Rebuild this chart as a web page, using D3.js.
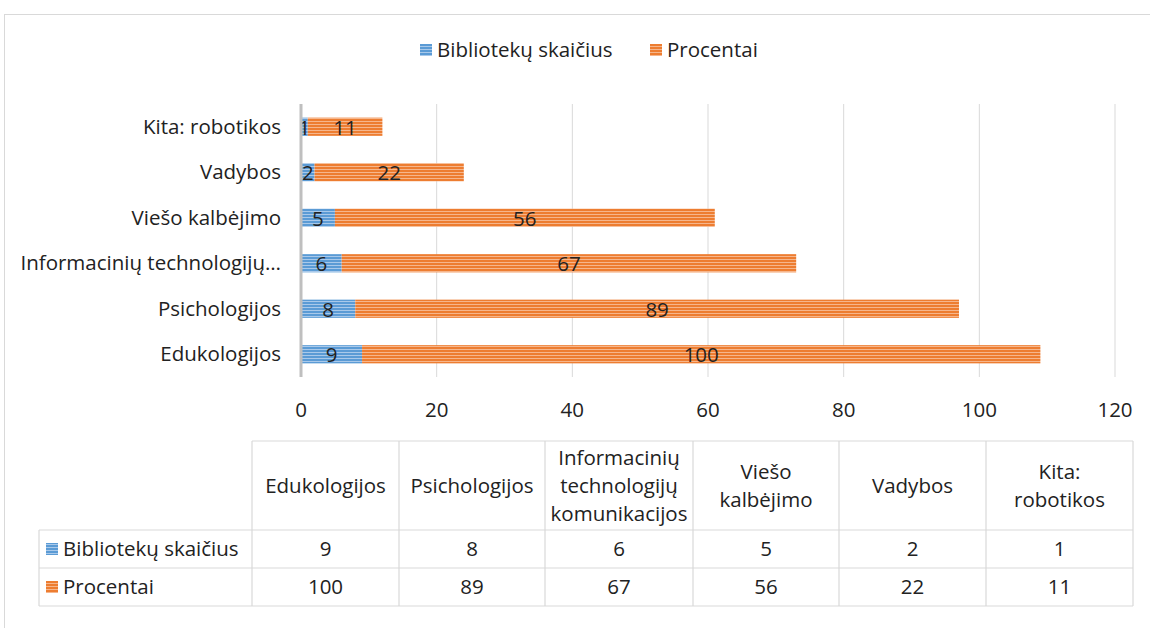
<!DOCTYPE html>
<meta charset="utf-8">
<style>
body { margin: 0; background: #fff; }
text { font-family: "Open Sans", sans-serif; fill: #222; }
</style>
<svg width="1150" height="628"></svg>
<script src="https://d3js.org/d3.v7.min.js"></script>
<script>

// data
var categories = ["Edukologijos", "Psichologijos", "Informacinių technologijų komunikacijos", "Viešo kalbėjimo", "Vadybos", "Kita: robotikos"];
var headerLines = [["Edukologijos"], ["Psichologijos"], ["Informacinių", "technologijų", "komunikacijos"], ["Viešo", "kalbėjimo"], ["Vadybos"], ["Kita:", "robotikos"]];
var bibliotekos = [9, 8, 6, 5, 2, 1];
var procentai = [100, 89, 67, 56, 22, 11];
var seriesNames = ["Bibliotekų skaičius", "Procentai"];
var xTicks = [0, 20, 40, 60, 80, 100, 120];

var svg = d3.select("svg");
var fs = 20.5;

var colors = [{base: "#5b9bd5", light: "#a9c9ea"}, {base: "#ed7d31", light: "#f6b68c"}];

// striped fills
var defs = svg.append("defs");
colors.forEach(function(c, i) {
  var p = defs.append("pattern")
      .attr("id", "stripe" + i)
      .attr("patternUnits", "userSpaceOnUse")
      .attr("width", 6).attr("height", 3);
  p.append("rect").attr("width", 6).attr("height", 3).attr("fill", c.base);
  p.append("rect").attr("y", 1).attr("width", 6).attr("height", 1).attr("fill", c.light);
});

// outer border
svg.append("rect")
    .attr("x", 4.5).attr("y", 14.5)
    .attr("width", 1200).attr("height", 700)
    .attr("fill", "none").attr("stroke", "#d9d9d9");

var x = d3.scaleLinear().domain([0, 120]).range([301, 1115]);
var y = d3.scaleBand().domain(categories.slice().reverse()).range([104, 377]).paddingInner(0.6).paddingOuter(0.3);

// gridlines
svg.append("g").selectAll("line")
  .data(xTicks.slice(1))
  .enter().append("line")
    .attr("x1", function(d) { return x(d); })
    .attr("x2", function(d) { return x(d); })
    .attr("y1", 104).attr("y2", 377)
    .attr("stroke", "#d9d9d9").attr("stroke-width", 1);

// x tick labels
svg.append("g").selectAll("text")
  .data(xTicks)
  .enter().append("text")
    .attr("x", function(d) { return x(d); })
    .attr("y", 417)
    .attr("text-anchor", "middle")
    .attr("font-size", fs)
    .text(function(d) { return d; });

// stacked bars
var rows = categories.map(function(c, i) { return {cat: c, vals: [bibliotekos[i], procentai[i]]}; });
var stackG = svg.append("g");
rows.forEach(function(r) {
  var start = 0;
  r.vals.forEach(function(v, si) {
    stackG.append("rect")
        .attr("x", x(start))
        .attr("y", y(r.cat))
        .attr("width", x(start + v) - x(start))
        .attr("height", y.bandwidth())
        .attr("fill", "url(#stripe" + si + ")");
    stackG.append("text")
        .attr("x", (x(start) + x(start + v)) / 2)
        .attr("y", y(r.cat) + y.bandwidth() / 2 + 8)
        .attr("text-anchor", "middle")
        .attr("font-size", fs)
        .text(v);
    start += v;
  });
});

// y axis line
svg.append("line")
    .attr("x1", 301).attr("x2", 301)
    .attr("y1", 104).attr("y2", 377)
    .attr("stroke", "#bfbfbf").attr("stroke-width", 3);

// category labels (truncated like the original)
svg.append("g").selectAll("text")
  .data(categories)
  .enter().append("text")
    .attr("x", 281)
    .attr("y", function(d) { return y(d) + y.bandwidth() / 2 + 7; })
    .attr("text-anchor", "end")
    .attr("font-size", fs)
    .text(function(d) { return d.length > 30 ? "Informacinių technologijų…" : d; });

// legend
var legend = [{x: 420, name: seriesNames[0]}, {x: 650, name: seriesNames[1]}];
legend.forEach(function(l, i) {
  svg.append("rect").attr("x", l.x).attr("y", 44).attr("width", 12).attr("height", 12).attr("fill", "url(#stripe" + i + ")");
  svg.append("text").attr("x", l.x + 17).attr("y", 57).attr("font-size", fs).text(l.name);
});

// data table
var colX = [252, 399, 545, 693, 839, 986, 1133];
var tTop = 441, tHead = 530, tR1 = 568, tBot = 606, tLeft = 39;
var tg = svg.append("g").attr("stroke", "#d9d9d9").attr("stroke-width", 1.2);
tg.append("line").attr("x1", colX[0]).attr("x2", colX[6]).attr("y1", tTop).attr("y2", tTop);
[tHead, tR1, tBot].forEach(function(yy) {
  tg.append("line").attr("x1", tLeft).attr("x2", colX[6]).attr("y1", yy).attr("y2", yy);
});
colX.forEach(function(cx) {
  tg.append("line").attr("x1", cx).attr("x2", cx).attr("y1", tTop).attr("y2", tBot);
});
tg.append("line").attr("x1", tLeft).attr("x2", tLeft).attr("y1", tHead).attr("y2", tBot);

headerLines.forEach(function(lines, i) {
  var cx = (colX[i] + colX[i + 1]) / 2;
  var cy = (tTop + tHead) / 2;
  lines.forEach(function(t, j) {
    svg.append("text")
        .attr("x", cx)
        .attr("y", cy + (j - (lines.length - 1) / 2) * 28 + 7)
        .attr("text-anchor", "middle")
        .attr("font-size", fs)
        .text(t);
  });
});

[bibliotekos, procentai].forEach(function(vals, si) {
  var top = si === 0 ? tHead : tR1;
  var mid = (top + (si === 0 ? tR1 : tBot)) / 2;
  svg.append("rect").attr("x", 46).attr("y", mid - 6).attr("width", 12).attr("height", 12).attr("fill", "url(#stripe" + si + ")");
  svg.append("text").attr("x", 63).attr("y", mid + 7).attr("font-size", fs).text(seriesNames[si]);
  vals.forEach(function(v, i) {
    svg.append("text")
        .attr("x", (colX[i] + colX[i + 1]) / 2)
        .attr("y", mid + 7)
        .attr("text-anchor", "middle")
        .attr("font-size", fs)
        .text(v);
  });
});

</script>
